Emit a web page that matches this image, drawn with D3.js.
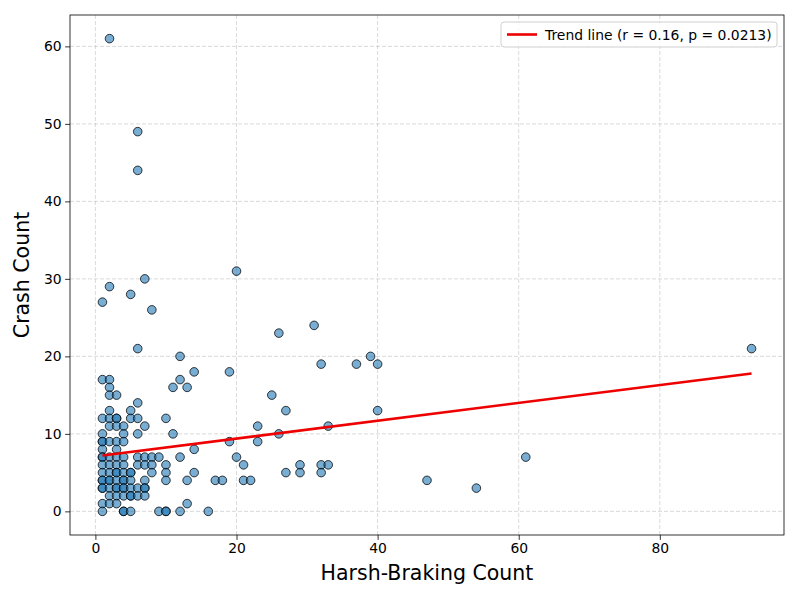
<!DOCTYPE html>
<html>
<head>
<meta charset="utf-8">
<script src="https://cdn.jsdelivr.net/npm/d3@7"></script>
<style>
  body { margin: 0; background: #fff; }
  svg { font-family: "DejaVu Sans", sans-serif; }
</style>
</head>
<body>
<div id="chart"></div>
<script>
// points (harsh-braking count, crash count)
const harshBraking = [
  1,1,1,1,1,1,1,1,1,1,1,1,1,1,1,1,1,
  2,2,2,2,2,2,2,2,2,2,2,2,2,2,2,2,2,
  3,3,3,3,3,3,3,3,3,3,3,3,3,3,3,
  4,4,4,4,4,4,4,4,4,4,4,4,4,
  5,5,5,5,5,5,5,5,5,5,
  6,6,6,6,6,6,6,6,6,6,
  7,7,7,7,7,7,7,7,
  8,8,8,8,
  9,9,
  10,10,10,10,10,10,
  11,11,
  12,12,12,12,
  13,13,13,
  14,14,14,
  16,17,18,
  19,19,
  20,20,
  21,21,
  22,
  23,23,
  25,
  26,26,
  27,27,
  29,29,
  31,
  32,32,32,
  33,33,
  37,39,
  40,40,
  47,54,61,93
];
const crashes = [
  27,17,12,10,9,9,8,7,7,6,5,4,4,3,3,1,0,
  61,29,17,16,15,13,12,11,9,7,6,5,4,4,3,2,1,
  15,12,12,11,9,8,7,6,5,5,4,3,3,2,1,
  11,10,9,7,6,5,4,4,3,3,2,0,0,
  28,13,12,5,5,4,3,2,2,0,
  49,44,21,14,12,10,7,6,3,2,
  30,11,7,6,4,3,3,2,
  26,7,6,5,
  7,0,
  12,6,5,4,0,0,
  16,10,
  20,17,7,0,
  16,4,1,
  18,8,5,
  0,4,4,
  18,9,
  31,7,
  6,4,
  4,
  11,9,
  15,
  23,10,
  13,5,
  6,5,
  24,
  19,6,5,
  11,6,
  19,20,
  19,13,
  4,3,7,21
];
// fitted trend line
const trendX = [1, 93];
const trendY = [7.2, 17.8];
const trendLabel = "Trend line (r = 0.16, p = 0.0213)";
const xTicks = [0, 20, 40, 60, 80];
const yTicks = [0, 10, 20, 30, 40, 50, 60];

const width = 799, height = 599;
const margin = {top: 15, right: 15, bottom: 64, left: 70};

const svg = d3.select("#chart").append("svg")
    .attr("width", width)
    .attr("height", height);

const x = d3.scaleLinear()
    .domain([-3.6, 97.6])
    .range([margin.left, width - margin.right]);

const y = d3.scaleLinear()
    .domain([-3.05, 64.05])
    .range([height - margin.bottom, margin.top]);

// grid
svg.append("g")
    .selectAll("line")
    .data(xTicks)
    .enter().append("line")
    .attr("x1", d => x(d)).attr("x2", d => x(d))
    .attr("y1", margin.top).attr("y2", height - margin.bottom)
    .attr("stroke", "#b0b0b0")
    .attr("stroke-opacity", 0.6)
    .attr("stroke-dasharray", "4,2")
    .attr("stroke-width", 0.8);

svg.append("g")
    .selectAll("line")
    .data(yTicks)
    .enter().append("line")
    .attr("x1", margin.left).attr("x2", width - margin.right)
    .attr("y1", d => y(d)).attr("y2", d => y(d))
    .attr("stroke", "#b0b0b0")
    .attr("stroke-opacity", 0.6)
    .attr("stroke-dasharray", "4,2")
    .attr("stroke-width", 0.8);

// points
svg.append("g")
    .selectAll("circle")
    .data(harshBraking.map((d, i) => [d, crashes[i]]))
    .enter().append("circle")
    .attr("cx", d => x(d[0]))
    .attr("cy", d => y(d[1]))
    .attr("r", 4.3)
    .attr("fill", "#1f77b4")
    .attr("fill-opacity", 0.6)
    .attr("stroke", "#000")
    .attr("stroke-opacity", 0.75)
    .attr("stroke-width", 1);

// trend line
svg.append("line")
    .attr("x1", x(trendX[0])).attr("y1", y(trendY[0]))
    .attr("x2", x(trendX[1])).attr("y2", y(trendY[1]))
    .attr("stroke", "#ee0000")
    .attr("stroke-width", 2.6);

// axes
const xAxis = svg.append("g")
    .attr("transform", `translate(0,${height - margin.bottom})`)
    .call(d3.axisBottom(x).tickValues(xTicks).tickSize(4.9).tickPadding(3.5));
const yAxis = svg.append("g")
    .attr("transform", `translate(${margin.left},0)`)
    .call(d3.axisLeft(y).tickValues(yTicks).tickSize(4.9).tickPadding(3.5));
[xAxis, yAxis].forEach(a => {
    a.select(".domain").remove();
    a.selectAll("text").attr("font-size", 13.9).attr("fill", "#000")
        .attr("font-family", "DejaVu Sans");
    a.selectAll("line").attr("stroke", "#000").attr("stroke-width", 0.8);
});

// frame
svg.append("rect")
    .attr("x", margin.left).attr("y", margin.top)
    .attr("width", width - margin.left - margin.right)
    .attr("height", height - margin.top - margin.bottom)
    .attr("fill", "none")
    .attr("stroke", "#000")
    .attr("stroke-width", 0.8);

// axis titles
svg.append("text")
    .attr("x", (margin.left + width - margin.right) / 2)
    .attr("y", 580)
    .attr("text-anchor", "middle")
    .attr("font-size", 20.5)
    .text("Harsh-Braking Count");

svg.append("text")
    .attr("transform", `translate(29,${(margin.top + height - margin.bottom) / 2}) rotate(-90)`)
    .attr("text-anchor", "middle")
    .attr("font-size", 20.5)
    .text("Crash Count");

// legend
const legend = svg.append("g").attr("transform", "translate(501,22)");
legend.append("rect")
    .attr("width", 276).attr("height", 25).attr("rx", 3)
    .attr("fill", "#fff").attr("fill-opacity", 0.8)
    .attr("stroke", "#d0d0d0");
legend.append("line")
    .attr("x1", 6).attr("x2", 36).attr("y1", 12.5).attr("y2", 12.5)
    .attr("stroke", "#ee0000").attr("stroke-width", 2.6);
legend.append("text")
    .attr("x", 44).attr("y", 17.5)
    .attr("font-size", 13.9)
    .text(trendLabel);
</script>
</body>
</html>
